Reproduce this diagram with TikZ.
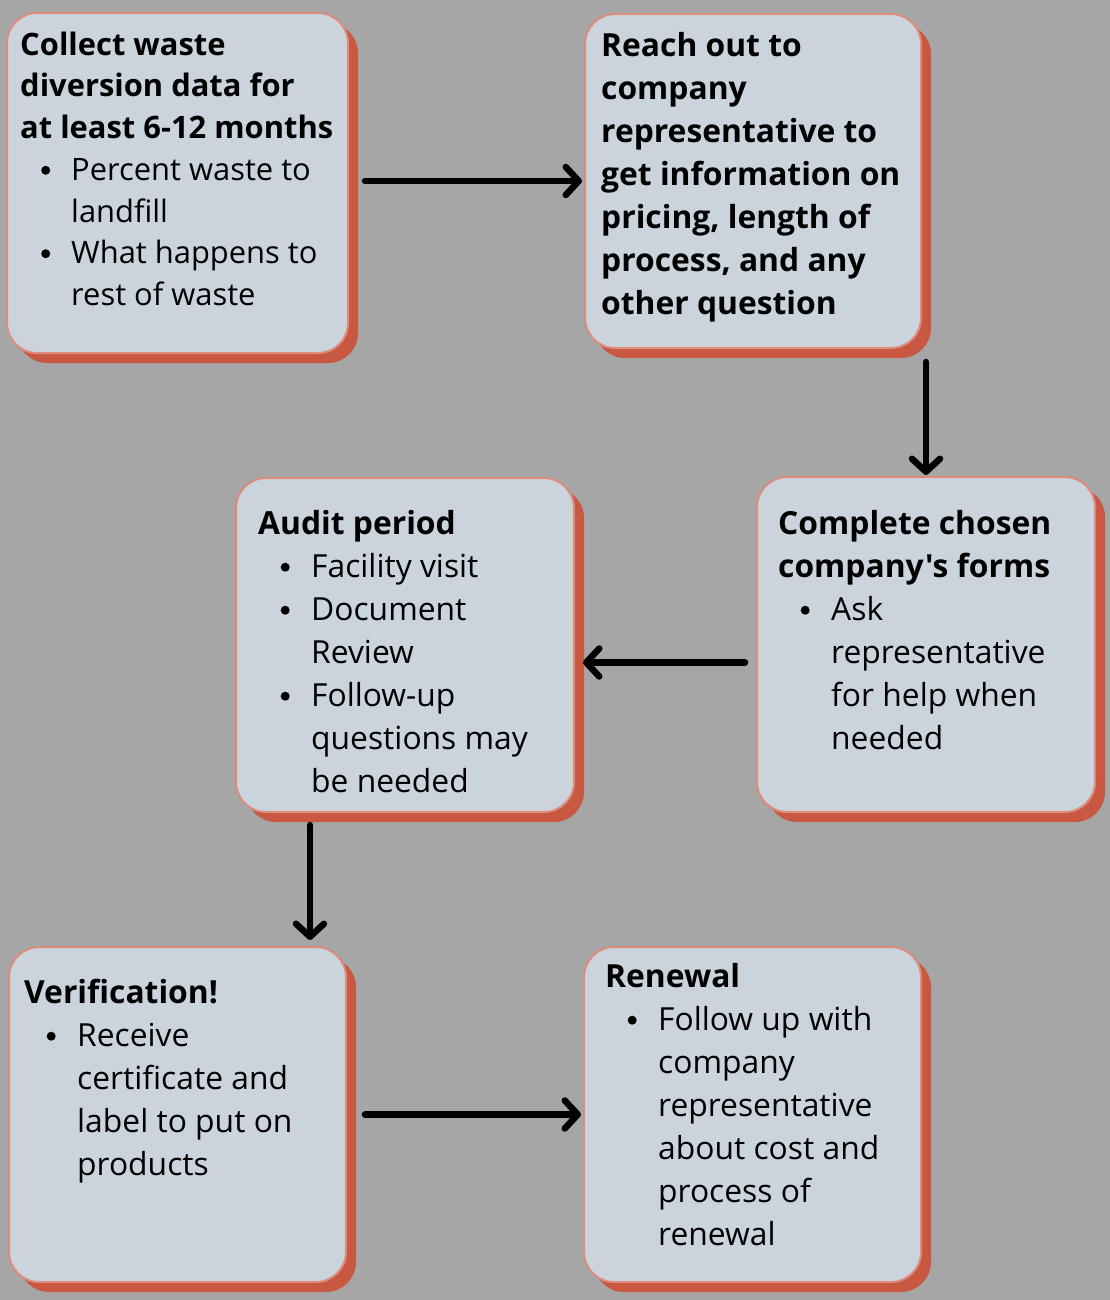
\documentclass[tikz,border=0pt]{standalone}
\usepackage{fontspec}
\setmainfont{Open Sans}[Ligatures=TeXOff]
\usetikzlibrary{arrows.meta,shadows,calc}
\definecolor{bgc}{HTML}{A6A6A6}
\definecolor{boxc}{HTML}{CBD3DD}
\definecolor{bordc}{HTML}{DC8C7D}
\definecolor{shadc}{HTML}{C85842}
\newcommand\bdot{\tikz[baseline=0pt]\fill[black] (0pt,10pt) circle[radius=4.5pt];}
\newcommand\bitem{\makebox[53pt][l]{\hspace*{22.5pt}\bdot}}
\newcommand\bcont{\hspace*{53pt}}
\newcommand\bitemA{\makebox[51pt][l]{\hspace*{21pt}\bdot}}
\newcommand\bcontA{\hspace*{51pt}}
\newcommand\fstrut{\rule{0pt}{26pt}}
\begin{document}
\begin{tikzpicture}[x=1pt,y=-1pt,
  stepbox/.style={draw=bordc, line width=2pt, fill=boxc, rounded corners=30pt,
    inner sep=0pt, outer sep=0pt,
    drop shadow={shadow xshift=10pt, shadow yshift=-10pt, fill=shadc, opacity=1}},
  txt/.style={anchor=north west, align=left, inner sep=0pt, text=black,
    font=\fontsize{31.8pt}{43pt}\selectfont},
  arr/.style={line width=6.5pt, line cap=round, line join=round,
    -{Straight Barb[length=13pt,width=28pt,line cap=round,line join=round]}}]
\fill[bgc] (0,0) rectangle (1110,1300);
\useasboundingbox (0,0) rectangle (1110,1300);

\node[stepbox, minimum width=341pt, minimum height=340pt] (b1) at (177.5,183) {};
\node[stepbox, minimum width=336pt, minimum height=334pt] (b2) at (753,181) {};
\node[stepbox, minimum width=338pt, minimum height=335pt] (b3) at (926,644.5) {};
\node[stepbox, minimum width=338pt, minimum height=334pt] (b4) at (405,645) {};
\node[stepbox, minimum width=337pt, minimum height=335pt] (b5) at (177.5,1114.5) {};
\node[stepbox, minimum width=337pt, minimum height=335pt] (b6) at (752.5,1114.5) {};

\node[txt, font=\fontsize{30.9pt}{41.7pt}\selectfont] (t1) at (20,29) {\fstrut\textbf{Collect waste}\\
\textbf{diversion data for}\\
\textbf{at least 6-12 months}\\
\bitemA Percent waste to\\
\bcontA landfill\\
\bitemA What happens to\\
\bcontA rest of waste};

\node[txt] (t2) at (601,30) {\fstrut\textbf{Reach out to}\\
\textbf{company}\\
\textbf{representative to}\\
\textbf{get information on}\\
\textbf{pricing, length of}\\
\textbf{process, and any}\\
\textbf{other question}};

\node[txt] (t3) at (778,508) {\fstrut\textbf{Complete chosen}\\
\textbf{company's forms}\\
\bitem Ask\\
\bcont representative\\
\bcont for help when\\
\bcont needed};

\node[txt] (t4) at (258,508) {\fstrut\textbf{Audit period}\\
\bitem Facility visit\\
\bitem Document\\
\bcont Review\\
\bitem Follow-up\\
\bcont questions may\\
\bcont be needed};

\node[txt] (t5) at (24,977) {\fstrut\textbf{Verification!}\\
\bitem Receive\\
\bcont certificate and\\
\bcont label to put on\\
\bcont products};

\node[txt] (t6) at (605,961) {\fstrut\textbf{Renewal}\\
\bitem Follow up with\\
\bcont company\\
\bcont representative\\
\bcont about cost and\\
\bcont process of\\
\bcont renewal};

\draw[arr, shorten <=17pt, shorten >=3pt] (b1.east |- b2.west) -- (b2.west);
\draw[arr, shorten <=14pt, shorten >=2pt] (b2.south -| b3.north) -- (b3.north);
\draw[arr, shorten <=12pt, shorten >=9pt] ([yshift=-18pt]b3.west) -- ([yshift=-18pt]b3.west -| b4.east);
\draw[arr, shorten <=13pt, shorten >=7pt] ([xshift=-95pt]b4.south) -- ([xshift=-95pt]b4.south |- b5.north);
\draw[arr, shorten <=19pt, shorten >=3pt] (b5.east) -- (b6.west);
\end{tikzpicture}
\end{document}
